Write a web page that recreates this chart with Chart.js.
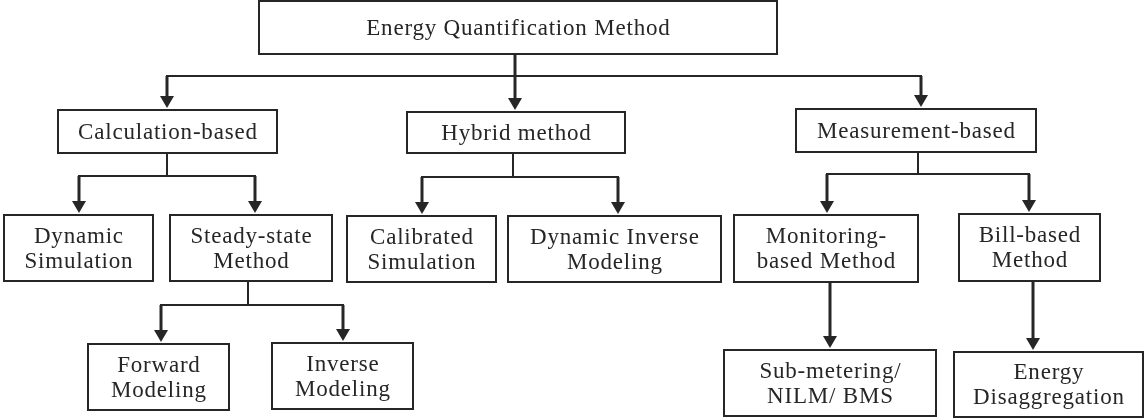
<!DOCTYPE html>
<html>
<head>
<meta charset="utf-8">
<script src="https://cdn.jsdelivr.net/npm/chart.js@4/dist/chart.umd.min.js"></script>
<style>
  html, body { margin: 0; padding: 0; background: #fff; }
  #wrap { width: 1144px; height: 418px; }
</style>
</head>
<body>
<div id="wrap"><canvas id="tree" width="1144" height="418"></canvas></div>
<script>
// tree content
const nodeLabels = [
    "Energy Quantification Method",
    "Calculation-based", "Hybrid method", "Measurement-based",
    "Dynamic\nSimulation", "Steady-state\nMethod",
    "Calibrated\nSimulation", "Dynamic Inverse\nModeling",
    "Monitoring-\nbased Method", "Bill-based\nMethod",
    "Forward\nModeling", "Inverse\nModeling",
    "Sub-metering/\nNILM/ BMS", "Energy\nDisaggregation"
];
const nodeParent = [-1, 0, 0, 0, 1, 1, 2, 2, 3, 3, 5, 5, 8, 9];

// layout (diagram units, same as the page size)
const boxLeft   = [259, 58, 407, 796, 4, 170, 347, 508, 734, 959, 88, 272, 724, 954];
const boxTop    = [1, 110, 112, 109, 215, 215, 216, 216, 215, 214, 344, 343, 350, 352];
const boxRight  = [777, 277, 625, 1036, 153, 332, 496, 721, 918, 1100, 229, 413, 936, 1143];
const boxBottom = [54, 153, 153, 152, 281, 281, 282, 282, 282, 281, 410, 409, 416, 417];
const arrowX    = [0, 167, 515, 921, 79, 255, 422, 618, 827, 1029, 161, 343, 830, 1033];
const stemX     = { 0: 515, 1: 167, 2: 513, 3: 918, 5: 248, 8: 830, 9: 1033 };
const busY      = { 0: 76, 1: 176, 2: 177, 3: 174, 5: 305 };

const ink = "#262626";
const font = "23px 'Liberation Serif', 'DejaVu Serif', serif";

const points = nodeLabels.map((_, i) => ({
    x: (boxLeft[i] + boxRight[i]) / 2,
    y: (boxTop[i] + boxBottom[i]) / 2
}));

const treePlugin = {
    id: "tree",
    afterDatasetsDraw(chart) {
        const ctx = chart.ctx;
        const sx = v => chart.scales.x.getPixelForValue(v);
        const sy = v => chart.scales.y.getPixelForValue(v);
        ctx.save();
        ctx.strokeStyle = ink;
        ctx.fillStyle = ink;
        ctx.lineCap = "butt";

        const line = (x1, y1, x2, y2, w) => {
            ctx.lineWidth = w;
            ctx.beginPath();
            ctx.moveTo(sx(x1), sy(y1));
            ctx.lineTo(sx(x2), sy(y2));
            ctx.stroke();
        };
        const arrow = (x, y1, y2) => {
            line(x, y1, x, y2 - 10, 3);
            ctx.beginPath();
            ctx.moveTo(sx(x) - 7, sy(y2) - 12);
            ctx.lineTo(sx(x) + 7, sy(y2) - 12);
            ctx.lineTo(sx(x), sy(y2));
            ctx.closePath();
            ctx.fill();
        };

        // connectors
        nodeLabels.forEach((_, p) => {
            const kids = nodeParent.map((q, i) => q === p ? i : -1).filter(i => i >= 0);
            if (!kids.length) return;
            const sxp = stemX[p];
            if (kids.length === 1) {
                arrow(sxp, boxBottom[p], boxTop[kids[0]] - 2);
                return;
            }
            const by = busY[p];
            const xs = kids.map(k => arrowX[k]);
            line(Math.min(...xs) - 1, by, Math.max(...xs) + 1, by, 2);
            const mid = kids.find(k => Math.abs(arrowX[k] - sxp) < 6);
            if (mid === undefined) line(sxp, boxBottom[p], sxp, by, 2);
            kids.forEach(k => {
                const top = k === mid ? boxBottom[p] : by;
                arrow(arrowX[k], top, boxTop[k] - 2);
            });
        });

        // boxes and labels
        ctx.font = font;
        ctx.letterSpacing = "0.8px";
        ctx.textAlign = "center";
        ctx.textBaseline = "middle";
        nodeLabels.forEach((label, i) => {
            const x0 = sx(boxLeft[i]), y0 = sy(boxTop[i]);
            const x1 = sx(boxRight[i]), y1 = sy(boxBottom[i]);
            ctx.lineWidth = 2;
            ctx.strokeRect(x0, y0, x1 - x0, y1 - y0);
            const rows = label.split("\n");
            const lh = 25;
            const cy = (y0 + y1) / 2 + 1;
            rows.forEach((r, j) => {
                ctx.fillText(r, (x0 + x1) / 2 + 0.4, cy + (j - (rows.length - 1) / 2) * lh);
            });
        });
        ctx.restore();
    }
};

new Chart(document.getElementById("tree"), {
    type: "scatter",
    data: {
        datasets: [{
            data: points,
            pointRadius: 0,
            pointHoverRadius: 0
        }]
    },
    options: {
        responsive: false,
        animation: false,
        events: [],
        layout: { padding: 0 },
        scales: {
            x: { type: "linear", min: 0, max: 1144, display: false },
            y: { type: "linear", min: 0, max: 418, reverse: true, display: false }
        },
        plugins: { legend: { display: false }, tooltip: { enabled: false } }
    },
    plugins: [treePlugin]
});
</script>
</body>
</html>
